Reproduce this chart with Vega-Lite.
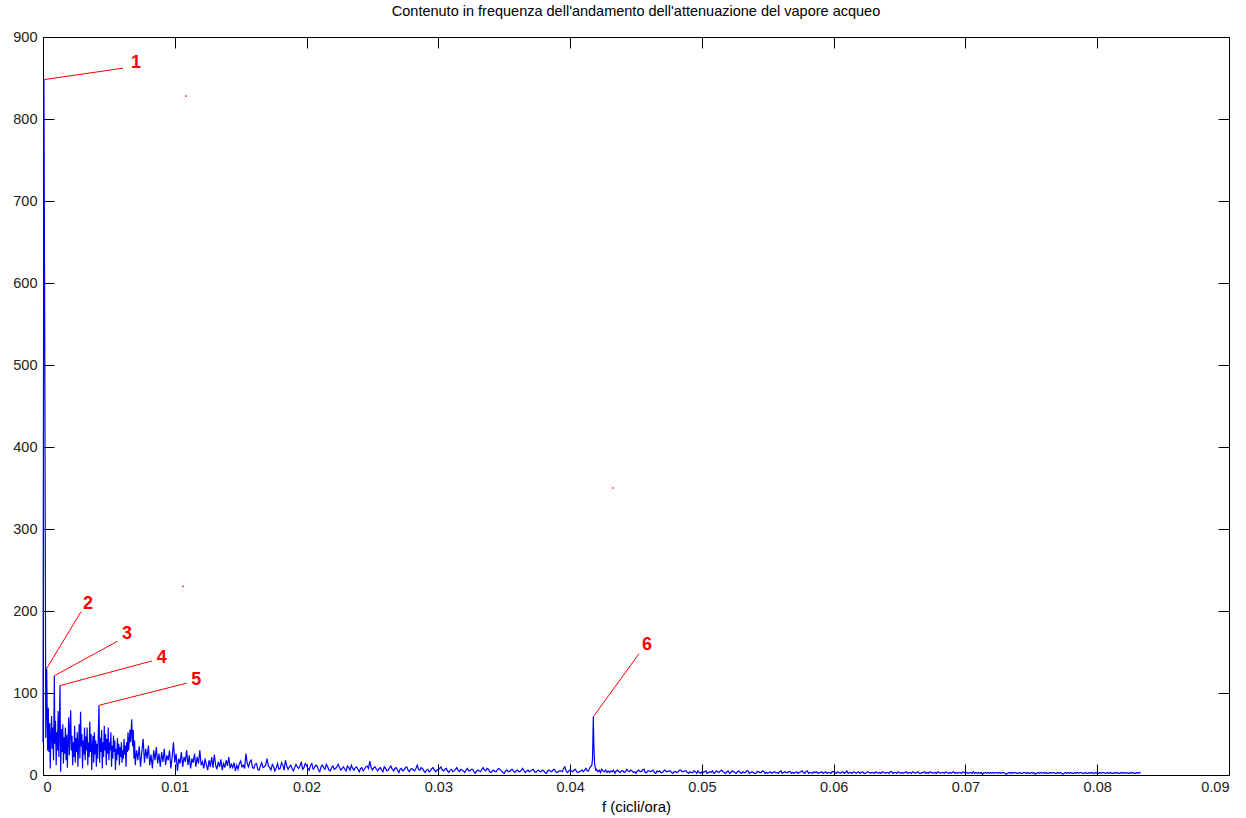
{
"$schema":"https://vega.github.io/schema/vega-lite/v6.json",
"width":1186,"height":738,
"autosize":{"type":"none"},
"padding":{"left":43,"top":37,"right":17,"bottom":43},
"background":"white",
"title":{"text":"Contenuto in frequenza dell'andamento dell'attenuazione del vapore acqueo","font":"Liberation Sans","fontSize":14.5,"fontWeight":"normal","color":"#000000","offset":10,"anchor":"middle"},
"config":{"view":{"stroke":null},"axis":{"grid":false,"domainColor":"#000000","tickColor":"#000000","labelFont":"Liberation Sans","labelFontSize":14.5,"labelColor":"#222222","titleFont":"Liberation Sans","titleFontSize":15,"titleFontWeight":"normal","titleColor":"#000000"}},
"datasets":{
"spec":[
{"f":0,"a":40},{"f":0.00007,"a":848},{"f":0.00014,"a":495},{"f":0.00021,"a":45},{"f":0.00028,"a":130},{"f":0.00035,"a":30},{"f":0.0004,"a":82},{"f":0.00045,"a":28},{"f":0.0005,"a":63},{"f":0.00055,"a":8},{"f":0.0006,"a":48},{"f":0.00065,"a":72},{"f":0.0007,"a":32},{"f":0.00075,"a":58},{"f":0.0008,"a":18},{"f":0.00086,"a":121},{"f":0.0009,"a":38},{"f":0.00095,"a":66},{"f":0.001,"a":12},{"f":0.00105,"a":52},{"f":0.0011,"a":30},{"f":0.00115,"a":78},{"f":0.0012,"a":22},{"f":0.00129,"a":109},{"f":0.00134,"a":4},{"f":0.0014,"a":56},{"f":0.00145,"a":28},{"f":0.0015,"a":62},{"f":0.00155,"a":14},{"f":0.0016,"a":46},{"f":0.00165,"a":26},{"f":0.0017,"a":58},{"f":0.00175,"a":18},{"f":0.0018,"a":49},{"f":0.00185,"a":9},{"f":0.0019,"a":42},{"f":0.00195,"a":70},{"f":0.002,"a":24},{"f":0.00205,"a":55},{"f":0.0021,"a":79},{"f":0.00215,"a":30},{"f":0.0022,"a":48},{"f":0.00225,"a":12},{"f":0.0023,"a":40},{"f":0.00235,"a":22},{"f":0.0024,"a":60},{"f":0.00245,"a":15},{"f":0.0025,"a":45},{"f":0.00255,"a":28},{"f":0.0026,"a":52},{"f":0.00265,"a":10},{"f":0.0027,"a":38},{"f":0.00275,"a":62},{"f":0.0028,"a":20},{"f":0.00285,"a":77},{"f":0.0029,"a":35},{"f":0.00295,"a":50},{"f":0.003,"a":8},{"f":0.00305,"a":42},{"f":0.0031,"a":25},{"f":0.00315,"a":58},{"f":0.0032,"a":18},{"f":0.00325,"a":47},{"f":0.0033,"a":30},{"f":0.00335,"a":58},{"f":0.0034,"a":12},{"f":0.00345,"a":40},{"f":0.0035,"a":22},{"f":0.00355,"a":65},{"f":0.0036,"a":28},{"f":0.00365,"a":50},{"f":0.0037,"a":6},{"f":0.00375,"a":35},{"f":0.0038,"a":48},{"f":0.00385,"a":15},{"f":0.0039,"a":52},{"f":0.00395,"a":25},{"f":0.004,"a":42},{"f":0.00405,"a":10},{"f":0.0041,"a":38},{"f":0.00415,"a":20},{"f":0.00425,"a":85},{"f":0.0043,"a":15},{"f":0.00435,"a":45},{"f":0.0044,"a":28},{"f":0.00445,"a":55},{"f":0.0045,"a":8},{"f":0.00455,"a":40},{"f":0.0046,"a":22},{"f":0.00465,"a":60},{"f":0.0047,"a":30},{"f":0.00475,"a":50},{"f":0.0048,"a":12},{"f":0.00485,"a":44},{"f":0.0049,"a":26},{"f":0.00495,"a":58},{"f":0.005,"a":18},{"f":0.00505,"a":40},{"f":0.0051,"a":30},{"f":0.00515,"a":52},{"f":0.0052,"a":10},{"f":0.00525,"a":36},{"f":0.0053,"a":20},{"f":0.00535,"a":48},{"f":0.0054,"a":28},{"f":0.00545,"a":42},{"f":0.0055,"a":6},{"f":0.00555,"a":32},{"f":0.0056,"a":18},{"f":0.00565,"a":45},{"f":0.0057,"a":25},{"f":0.00575,"a":38},{"f":0.0058,"a":12},{"f":0.00585,"a":34},{"f":0.0059,"a":22},{"f":0.00595,"a":40},{"f":0.006,"a":15},{"f":0.00605,"a":30},{"f":0.0061,"a":20},{"f":0.00615,"a":44},{"f":0.0062,"a":25},{"f":0.00625,"a":36},{"f":0.0063,"a":10},{"f":0.00635,"a":40},{"f":0.0064,"a":28},{"f":0.00645,"a":52},{"f":0.0065,"a":30},{"f":0.0066,"a":55},{"f":0.00665,"a":40},{"f":0.00673,"a":68},{"f":0.0068,"a":35},{"f":0.00685,"a":55},{"f":0.0069,"a":20},{"f":0.00695,"a":42},{"f":0.007,"a":12},
{"f":0.0071,"a":30},{"f":0.0072,"a":18},{"f":0.0073,"a":35},{"f":0.0074,"a":10},{"f":0.0075,"a":28},{"f":0.0076,"a":44},{"f":0.0077,"a":15},{"f":0.0078,"a":32},{"f":0.0079,"a":20},{"f":0.008,"a":36},{"f":0.0081,"a":12},{"f":0.0082,"a":25},{"f":0.0083,"a":8},{"f":0.0084,"a":30},{"f":0.0085,"a":18},{"f":0.0086,"a":34},{"f":0.0087,"a":14},{"f":0.0088,"a":26},{"f":0.0089,"a":10},{"f":0.009,"a":28},{"f":0.0091,"a":16},{"f":0.0092,"a":32},{"f":0.0093,"a":12},{"f":0.0094,"a":24},{"f":0.0095,"a":18},{"f":0.0096,"a":30},{"f":0.0097,"a":8},{"f":0.0098,"a":22},{"f":0.0099,"a":40},{"f":0.01,"a":15},{"f":0.0101,"a":26},{"f":0.0102,"a":5},{"f":0.0103,"a":20},{"f":0.0104,"a":14},{"f":0.0105,"a":28},{"f":0.0106,"a":10},{"f":0.0107,"a":22},{"f":0.0108,"a":16},{"f":0.0109,"a":30},{"f":0.011,"a":12},{"f":0.0111,"a":24},{"f":0.0112,"a":8},{"f":0.0113,"a":20},{"f":0.0114,"a":15},{"f":0.0115,"a":26},{"f":0.0116,"a":10},{"f":0.0117,"a":22},{"f":0.0118,"a":14},{"f":0.0119,"a":30},{"f":0.012,"a":12},
{"f":0.0121,"a":16},{"f":0.0122,"a":8},{"f":0.0123,"a":20},{"f":0.0124,"a":12},{"f":0.0125,"a":6},{"f":0.0126,"a":18},{"f":0.0127,"a":10},{"f":0.0128,"a":22},{"f":0.0129,"a":9},{"f":0.013,"a":25},
{"f":0.0131,"a":12},{"f":0.0132,"a":7},{"f":0.0133,"a":16},{"f":0.0134,"a":10},{"f":0.0135,"a":19},{"f":0.0136,"a":6},{"f":0.0137,"a":14},{"f":0.0138,"a":9},{"f":0.0139,"a":18},{"f":0.014,"a":11},
{"f":0.0141,"a":22},{"f":0.0142,"a":8},{"f":0.0143,"a":13},{"f":0.0144,"a":9},{"f":0.0145,"a":15},{"f":0.0146,"a":5},{"f":0.0147,"a":12},{"f":0.0148,"a":7},{"f":0.0149,"a":14},{"f":0.015,"a":17},
{"f":0.0151,"a":10},{"f":0.0152,"a":12},{"f":0.0153,"a":8},{"f":0.0154,"a":26},{"f":0.0155,"a":14},{"f":0.0156,"a":10},{"f":0.0157,"a":16},{"f":0.0158,"a":18},{"f":0.0159,"a":9},{"f":0.016,"a":8},
{"f":0.0161,"a":13},{"f":0.0162,"a":14},{"f":0.0163,"a":7},{"f":0.0164,"a":6},{"f":0.0165,"a":11},{"f":0.0166,"a":15},{"f":0.0167,"a":9},{"f":0.0168,"a":10},{"f":0.0169,"a":12},{"f":0.017,"a":20},
{"f":0.0171,"a":11},{"f":0.0172,"a":9},{"f":0.0173,"a":6},{"f":0.0174,"a":13},{"f":0.0175,"a":10},{"f":0.0176,"a":5},{"f":0.0177,"a":9},{"f":0.0178,"a":14},{"f":0.0179,"a":7},{"f":0.018,"a":8},
{"f":0.0181,"a":15},{"f":0.0182,"a":12},{"f":0.0183,"a":6},{"f":0.0184,"a":18},{"f":0.0185,"a":11},{"f":0.0186,"a":7},{"f":0.0187,"a":10},{"f":0.0188,"a":12},{"f":0.0189,"a":8},{"f":0.019,"a":5},
{"f":0.0191,"a":9},{"f":0.0192,"a":13},{"f":0.0193,"a":10},{"f":0.0194,"a":8},{"f":0.0195,"a":11},{"f":0.0196,"a":16},{"f":0.0197,"a":7},{"f":0.0198,"a":9},{"f":0.0199,"a":14},{"f":0.02,"a":12},
{"f":0.0201,"a":8},{"f":0.0202,"a":6},{"f":0.0203,"a":12},{"f":0.0204,"a":14},{"f":0.0205,"a":7},{"f":0.0206,"a":9},{"f":0.0207,"a":12},{"f":0.0208,"a":11},{"f":0.0209,"a":6},{"f":0.021,"a":4},
{"f":0.0211,"a":10},{"f":0.0212,"a":12},{"f":0.0213,"a":9},{"f":0.0214,"a":7},{"f":0.0215,"a":13},{"f":0.0216,"a":10},{"f":0.0217,"a":6},{"f":0.0218,"a":5},{"f":0.0219,"a":9},{"f":0.022,"a":11},
{"f":0.0221,"a":7},{"f":0.0222,"a":8},{"f":0.0223,"a":10},{"f":0.0224,"a":13},{"f":0.0225,"a":9},{"f":0.0226,"a":6},{"f":0.0227,"a":8},{"f":0.0228,"a":10},{"f":0.0229,"a":7},{"f":0.023,"a":5},
{"f":0.0231,"a":11},{"f":0.0232,"a":9},{"f":0.0233,"a":6},{"f":0.0234,"a":12},{"f":0.0235,"a":8},{"f":0.0236,"a":6},{"f":0.0237,"a":9},{"f":0.0238,"a":10},{"f":0.0239,"a":7},{"f":0.024,"a":4},
{"f":0.0241,"a":8},{"f":0.0242,"a":9},{"f":0.0243,"a":5},{"f":0.0244,"a":7},{"f":0.0245,"a":10},{"f":0.0246,"a":11},{"f":0.0247,"a":8},{"f":0.0248,"a":17},{"f":0.0249,"a":9},{"f":0.025,"a":6},
{"f":0.0251,"a":9},{"f":0.0252,"a":10},{"f":0.0253,"a":7},{"f":0.0254,"a":5},{"f":0.0255,"a":8},{"f":0.0256,"a":9},{"f":0.0257,"a":6},{"f":0.0258,"a":4},{"f":0.0259,"a":10},{"f":0.026,"a":8},
{"f":0.0261,"a":5},{"f":0.0262,"a":6},{"f":0.0263,"a":9},{"f":0.0264,"a":11},{"f":0.0265,"a":7},{"f":0.0266,"a":5},{"f":0.0267,"a":8},{"f":0.0268,"a":9},{"f":0.0269,"a":6},{"f":0.027,"a":3},
{"f":0.0271,"a":7},{"f":0.0272,"a":8},{"f":0.0273,"a":5},{"f":0.0274,"a":6},{"f":0.0275,"a":9},{"f":0.0276,"a":10},{"f":0.0277,"a":6},{"f":0.0278,"a":4},{"f":0.0279,"a":7},{"f":0.028,"a":8},
{"f":0.0281,"a":6},{"f":0.0282,"a":5},{"f":0.0283,"a":8},{"f":0.0284,"a":12},{"f":0.0285,"a":7},{"f":0.0286,"a":6},{"f":0.0287,"a":9},{"f":0.0288,"a":8},{"f":0.0289,"a":5},{"f":0.029,"a":3},
{"f":0.0291,"a":6},{"f":0.0292,"a":7},{"f":0.0293,"a":4},{"f":0.0294,"a":5},{"f":0.0295,"a":8},{"f":0.0296,"a":9},{"f":0.0297,"a":6},{"f":0.0298,"a":4},{"f":0.0299,"a":6},{"f":0.03,"a":7},
{"f":0.0301,"a":8},{"f":0.0302,"a":10},{"f":0.0303,"a":6},{"f":0.0304,"a":5},{"f":0.0305,"a":7},{"f":0.0306,"a":8},{"f":0.0307,"a":5},{"f":0.0308,"a":3},{"f":0.0309,"a":6},{"f":0.031,"a":7},
{"f":0.0311,"a":4},{"f":0.0312,"a":5},{"f":0.0313,"a":7},{"f":0.0314,"a":9},{"f":0.0315,"a":6},{"f":0.0316,"a":4},{"f":0.0317,"a":7},{"f":0.0318,"a":6},{"f":0.0319,"a":5},{"f":0.032,"a":3},
{"f":0.0321,"a":6},{"f":0.0322,"a":8},{"f":0.0323,"a":5},{"f":0.0324,"a":5},{"f":0.0325,"a":7},{"f":0.0326,"a":7},{"f":0.0327,"a":4},{"f":0.0328,"a":2},{"f":0.0329,"a":5},{"f":0.033,"a":6},
{"f":0.0331,"a":5},{"f":0.0332,"a":4},{"f":0.0333,"a":7},{"f":0.0334,"a":9},{"f":0.0335,"a":6},{"f":0.0336,"a":5},{"f":0.0337,"a":8},{"f":0.0338,"a":7},{"f":0.0339,"a":4},{"f":0.034,"a":3},
{"f":0.0341,"a":5},{"f":0.0342,"a":6},{"f":0.0343,"a":4},{"f":0.0344,"a":4},{"f":0.0345,"a":7},{"f":0.0346,"a":8},{"f":0.0347,"a":6},{"f":0.0348,"a":5},{"f":0.0349,"a":3},{"f":0.035,"a":2},
{"f":0.0351,"a":5},{"f":0.0352,"a":6},{"f":0.0353,"a":4},{"f":0.0354,"a":4},{"f":0.0355,"a":6},{"f":0.0356,"a":7},{"f":0.0357,"a":5},{"f":0.0358,"a":3},{"f":0.0359,"a":5},{"f":0.036,"a":6},
{"f":0.0361,"a":4},{"f":0.0362,"a":4},{"f":0.0363,"a":6},{"f":0.0364,"a":8},{"f":0.0365,"a":5},{"f":0.0366,"a":3},{"f":0.0367,"a":5},{"f":0.0368,"a":6},{"f":0.0369,"a":4},{"f":0.037,"a":5},
{"f":0.0371,"a":6},{"f":0.0372,"a":7},{"f":0.0373,"a":4},{"f":0.0374,"a":3},{"f":0.0375,"a":5},{"f":0.0376,"a":6},{"f":0.0377,"a":4},{"f":0.0378,"a":4},{"f":0.0379,"a":6},{"f":0.038,"a":5},
{"f":0.0381,"a":3},{"f":0.0382,"a":2},{"f":0.0383,"a":5},{"f":0.0384,"a":6},{"f":0.0385,"a":5},{"f":0.0386,"a":4},{"f":0.0387,"a":6},{"f":0.0388,"a":7},{"f":0.0389,"a":4},{"f":0.039,"a":3},
{"f":0.0391,"a":4},{"f":0.0392,"a":5},{"f":0.0393,"a":5},{"f":0.0394,"a":4},{"f":0.0395,"a":8},{"f":0.0396,"a":10},{"f":0.0397,"a":5},{"f":0.0398,"a":3},{"f":0.0399,"a":5},{"f":0.04,"a":6},
{"f":0.0401,"a":5},{"f":0.0402,"a":4},{"f":0.0403,"a":6},{"f":0.0404,"a":7},{"f":0.0405,"a":4},{"f":0.0406,"a":3},{"f":0.0407,"a":4},{"f":0.0408,"a":5},{"f":0.0409,"a":6},{"f":0.041,"a":4},
{"f":0.0411,"a":6},{"f":0.0412,"a":8},{"f":0.0413,"a":5},{"f":0.0414,"a":5},{"f":0.0415,"a":9},
{"f":0.04165,"a":12},{"f":0.0417,"a":20},{"f":0.04176,"a":71},{"f":0.0418,"a":38},{"f":0.04185,"a":15},{"f":0.0419,"a":10},{"f":0.04195,"a":6},{"f":0.042,"a":7},
{"f":0.0421,"a":4},{"f":0.0422,"a":6},{"f":0.0423,"a":3},{"f":0.0424,"a":7},{"f":0.0425,"a":5},{"f":0.0426,"a":4},{"f":0.0427,"a":6},{"f":0.0428,"a":3},{"f":0.0429,"a":5},{"f":0.043,"a":3},
{"f":0.0431,"a":5},{"f":0.0432,"a":4},{"f":0.0433,"a":6},{"f":0.0434,"a":2},{"f":0.0435,"a":5},{"f":0.0436,"a":6},{"f":0.0437,"a":4},{"f":0.0438,"a":3},{"f":0.0439,"a":5},{"f":0.044,"a":5},
{"f":0.0441,"a":3},{"f":0.0442,"a":4},{"f":0.0443,"a":7},{"f":0.0444,"a":5},{"f":0.0445,"a":4},{"f":0.0446,"a":6},{"f":0.0447,"a":5},{"f":0.0448,"a":3},{"f":0.0449,"a":4},{"f":0.045,"a":2},
{"f":0.0451,"a":5},{"f":0.0452,"a":6},{"f":0.0453,"a":4},{"f":0.0454,"a":4},{"f":0.0455,"a":6},{"f":0.0456,"a":7},{"f":0.0457,"a":3},{"f":0.0458,"a":3},{"f":0.0459,"a":5},{"f":0.046,"a":5},
{"f":0.0461,"a":4},{"f":0.0462,"a":5},{"f":0.0463,"a":6},{"f":0.0464,"a":3},{"f":0.0465,"a":2},{"f":0.0466,"a":5},{"f":0.0467,"a":4},{"f":0.0468,"a":5},{"f":0.0469,"a":3},{"f":0.047,"a":3},
{"f":0.0471,"a":5},{"f":0.0472,"a":6},{"f":0.0473,"a":4},{"f":0.0474,"a":4},{"f":0.0475,"a":5},{"f":0.0476,"a":5},{"f":0.0477,"a":3},{"f":0.0478,"a":2},{"f":0.0479,"a":4},{"f":0.048,"a":4},
{"f":0.0481,"a":3},{"f":0.0482,"a":4},{"f":0.0483,"a":6},{"f":0.0484,"a":6},{"f":0.0485,"a":4},{"f":0.0486,"a":4},{"f":0.0487,"a":5},{"f":0.0488,"a":5},{"f":0.0489,"a":3},{"f":0.049,"a":2},
{"f":0.0491,"a":4},{"f":0.0492,"a":3},{"f":0.0493,"a":3},{"f":0.0494,"a":5},{"f":0.0495,"a":4},{"f":0.0496,"a":2},{"f":0.0497,"a":5},{"f":0.0498,"a":3},{"f":0.0499,"a":2},{"f":0.05,"a":4},
{"f":0.0501,"a":3},{"f":0.0502,"a":4},{"f":0.0503,"a":5},{"f":0.0504,"a":2},{"f":0.0505,"a":3},{"f":0.0506,"a":4},{"f":0.0507,"a":3},{"f":0.0508,"a":5},{"f":0.0509,"a":2},{"f":0.051,"a":3},
{"f":0.0511,"a":5},{"f":0.0512,"a":4},{"f":0.0513,"a":3},{"f":0.0514,"a":5},{"f":0.0515,"a":6},{"f":0.0516,"a":4},{"f":0.0517,"a":3},{"f":0.0518,"a":2},{"f":0.0519,"a":4},{"f":0.052,"a":5},
{"f":0.0521,"a":2},{"f":0.0522,"a":3},{"f":0.0523,"a":5},{"f":0.0524,"a":4},{"f":0.0525,"a":3},{"f":0.0526,"a":2},{"f":0.0527,"a":4},{"f":0.0528,"a":5},{"f":0.0529,"a":3},{"f":0.053,"a":2},
{"f":0.0531,"a":4},{"f":0.0532,"a":3},{"f":0.0533,"a":3},{"f":0.0534,"a":5},{"f":0.0535,"a":5},{"f":0.0536,"a":2},{"f":0.0537,"a":3},{"f":0.0538,"a":4},{"f":0.0539,"a":3},{"f":0.054,"a":2},
{"f":0.0541,"a":2},{"f":0.0542,"a":4},{"f":0.0543,"a":4},{"f":0.0544,"a":3},{"f":0.0545,"a":3},{"f":0.0546,"a":5},{"f":0.0547,"a":4},{"f":0.0548,"a":2},{"f":0.0549,"a":3},{"f":0.055,"a":2},
{"f":0.0551,"a":3},{"f":0.0552,"a":4},{"f":0.0553,"a":2},{"f":0.0554,"a":3},{"f":0.0555,"a":4},{"f":0.0556,"a":3},{"f":0.0557,"a":3},{"f":0.0558,"a":2},{"f":0.0559,"a":4},{"f":0.056,"a":5},
{"f":0.0561,"a":2},{"f":0.0562,"a":3},{"f":0.0563,"a":4},{"f":0.0564,"a":3},{"f":0.0565,"a":3},{"f":0.0566,"a":4},{"f":0.0567,"a":4},{"f":0.0568,"a":2},{"f":0.0569,"a":3},{"f":0.057,"a":2},
{"f":0.0571,"a":3},{"f":0.0572,"a":4},{"f":0.0573,"a":2},{"f":0.0574,"a":3},{"f":0.0575,"a":4},{"f":0.0576,"a":5},{"f":0.0577,"a":3},{"f":0.0578,"a":2},{"f":0.0579,"a":4},{"f":0.058,"a":5},
{"f":0.0581,"a":2},{"f":0.0582,"a":3},{"f":0.0583,"a":3},{"f":0.0584,"a":2},{"f":0.0585,"a":4},{"f":0.0586,"a":3},{"f":0.0587,"a":4},{"f":0.0588,"a":2},{"f":0.0589,"a":3},{"f":0.059,"a":3},
{"f":0.0591,"a":4},{"f":0.0592,"a":2},{"f":0.0593,"a":3},{"f":0.0594,"a":4},{"f":0.0595,"a":2},{"f":0.0596,"a":3},{"f":0.0597,"a":3},{"f":0.0598,"a":2},{"f":0.0599,"a":4},{"f":0.06,"a":4},
{"f":0.0601,"a":3},{"f":0.0602,"a":2},{"f":0.0603,"a":4},{"f":0.0604,"a":3},{"f":0.0605,"a":2},{"f":0.0606,"a":3},{"f":0.0607,"a":4},{"f":0.0608,"a":2},{"f":0.0609,"a":3},{"f":0.061,"a":5},
{"f":0.0611,"a":2},{"f":0.0612,"a":3},{"f":0.0613,"a":3},{"f":0.0614,"a":2},{"f":0.0615,"a":4},{"f":0.0616,"a":3},{"f":0.0617,"a":2},{"f":0.0618,"a":3},{"f":0.0619,"a":4},{"f":0.062,"a":2},
{"f":0.0621,"a":3},{"f":0.0622,"a":4},{"f":0.0623,"a":2},{"f":0.0624,"a":2},{"f":0.0625,"a":3},{"f":0.0626,"a":4},{"f":0.0627,"a":3},{"f":0.0628,"a":2},{"f":0.0629,"a":3},{"f":0.063,"a":3},
{"f":0.0631,"a":2},{"f":0.0632,"a":4},{"f":0.0633,"a":3},{"f":0.0634,"a":2},{"f":0.0635,"a":3},{"f":0.0636,"a":2},{"f":0.0637,"a":4},{"f":0.0638,"a":3},{"f":0.0639,"a":2},{"f":0.064,"a":3},
{"f":0.0641,"a":3},{"f":0.0642,"a":2},{"f":0.0643,"a":4},{"f":0.0644,"a":4},{"f":0.0645,"a":2},{"f":0.0646,"a":3},{"f":0.0647,"a":3},{"f":0.0648,"a":2},{"f":0.0649,"a":4},{"f":0.065,"a":3},
{"f":0.0651,"a":2},{"f":0.0652,"a":3},{"f":0.0653,"a":2},{"f":0.0654,"a":3},{"f":0.0655,"a":4},{"f":0.0656,"a":2},{"f":0.0657,"a":3},{"f":0.0658,"a":3},{"f":0.0659,"a":2},{"f":0.066,"a":4},
{"f":0.0661,"a":3},{"f":0.0662,"a":2},{"f":0.0663,"a":3},{"f":0.0664,"a":4},{"f":0.0665,"a":2},{"f":0.0666,"a":2},{"f":0.0667,"a":3},{"f":0.0668,"a":3},{"f":0.0669,"a":4},{"f":0.067,"a":2},
{"f":0.0671,"a":3},{"f":0.0672,"a":2},{"f":0.0673,"a":4},{"f":0.0674,"a":3},{"f":0.0675,"a":3},{"f":0.0676,"a":2},{"f":0.0677,"a":3},{"f":0.0678,"a":2},{"f":0.0679,"a":4},{"f":0.068,"a":3},
{"f":0.0681,"a":2},{"f":0.0682,"a":3},{"f":0.0683,"a":3},{"f":0.0684,"a":2},{"f":0.0685,"a":4},{"f":0.0686,"a":3},{"f":0.0687,"a":2},{"f":0.0688,"a":3},{"f":0.0689,"a":2},{"f":0.069,"a":3},
{"f":0.0691,"a":4},{"f":0.0692,"a":2},{"f":0.0693,"a":3},{"f":0.0694,"a":2},{"f":0.0695,"a":3},{"f":0.0696,"a":3},{"f":0.0697,"a":2},{"f":0.0698,"a":4},{"f":0.0699,"a":3},{"f":0.07,"a":2},
{"f":0.0701,"a":3},{"f":0.0702,"a":2},{"f":0.0703,"a":3},{"f":0.0704,"a":3},{"f":0.0705,"a":2},{"f":0.0706,"a":4},{"f":0.0707,"a":2},{"f":0.0708,"a":3},{"f":0.0709,"a":2},{"f":0.071,"a":3},
{"f":0.0711,"a":2},{"f":0.0712,"a":3},{"f":0.0713,"a":1},{"f":0.0714,"a":3},{"f":0.0715,"a":3},{"f":0.0716,"a":2},{"f":0.0717,"a":3},{"f":0.0718,"a":2},{"f":0.0719,"a":3},{"f":0.072,"a":2},
{"f":0.0721,"a":3},{"f":0.0722,"a":2},{"f":0.0723,"a":3},{"f":0.0724,"a":3},{"f":0.0725,"a":2},{"f":0.0726,"a":3},{"f":0.0727,"a":2},{"f":0.0728,"a":3},{"f":0.0729,"a":3},{"f":0.073,"a":2},
{"f":0.0731,"a":1},{"f":0.0732,"a":2},{"f":0.0733,"a":3},{"f":0.0734,"a":2},{"f":0.0735,"a":3},{"f":0.0736,"a":2},{"f":0.0737,"a":3},{"f":0.0738,"a":3},{"f":0.0739,"a":2},{"f":0.074,"a":2},
{"f":0.0741,"a":3},{"f":0.0742,"a":2},{"f":0.0743,"a":2},{"f":0.0744,"a":3},{"f":0.0745,"a":3},{"f":0.0746,"a":2},{"f":0.0747,"a":3},{"f":0.0748,"a":2},{"f":0.0749,"a":2},{"f":0.075,"a":3},
{"f":0.0751,"a":2},{"f":0.0752,"a":3},{"f":0.0753,"a":1},{"f":0.0754,"a":2},{"f":0.0755,"a":3},{"f":0.0756,"a":2},{"f":0.0757,"a":3},{"f":0.0758,"a":2},{"f":0.0759,"a":3},{"f":0.076,"a":2},
{"f":0.0761,"a":3},{"f":0.0762,"a":2},{"f":0.0763,"a":2},{"f":0.0764,"a":3},{"f":0.0765,"a":2},{"f":0.0766,"a":3},{"f":0.0767,"a":3},{"f":0.0768,"a":2},{"f":0.0769,"a":2},{"f":0.077,"a":3},
{"f":0.0771,"a":2},{"f":0.0772,"a":3},{"f":0.0773,"a":2},{"f":0.0774,"a":1},{"f":0.0775,"a":2},{"f":0.0776,"a":3},{"f":0.0777,"a":2},{"f":0.0778,"a":3},{"f":0.0779,"a":2},{"f":0.078,"a":3},
{"f":0.0781,"a":2},{"f":0.0782,"a":2},{"f":0.0783,"a":3},{"f":0.0784,"a":2},{"f":0.0785,"a":3},{"f":0.0786,"a":2},{"f":0.0787,"a":3},{"f":0.0788,"a":3},{"f":0.0789,"a":2},{"f":0.079,"a":2},
{"f":0.0791,"a":3},{"f":0.0792,"a":2},{"f":0.0793,"a":2},{"f":0.0794,"a":3},{"f":0.0795,"a":2},{"f":0.0796,"a":3},{"f":0.0797,"a":2},{"f":0.0798,"a":2},{"f":0.0799,"a":3},{"f":0.08,"a":2},
{"f":0.0801,"a":2},{"f":0.0802,"a":3},{"f":0.0803,"a":2},{"f":0.0804,"a":3},{"f":0.0805,"a":3},{"f":0.0806,"a":2},{"f":0.0807,"a":2},{"f":0.0808,"a":3},{"f":0.0809,"a":2},{"f":0.081,"a":3},
{"f":0.0811,"a":2},{"f":0.0812,"a":2},{"f":0.0813,"a":3},{"f":0.0814,"a":2},{"f":0.0815,"a":3},{"f":0.0816,"a":2},{"f":0.0817,"a":2},{"f":0.0818,"a":3},{"f":0.0819,"a":2},{"f":0.082,"a":3},
{"f":0.0821,"a":2},{"f":0.0822,"a":3},{"f":0.0823,"a":2},{"f":0.0824,"a":2},{"f":0.0825,"a":3},{"f":0.0826,"a":2},{"f":0.0827,"a":3},{"f":0.0828,"a":2},{"f":0.0829,"a":2},{"f":0.083,"a":3},
{"f":0.0831,"a":2},{"f":0.0832,"a":3},{"f":0.0833,"a":2}
],
"notes":[
{"label":"1","x1":0.00007,"y1":848,"x2":0.00607,"y2":862,"lx":0.00706,"ly":868},
{"label":"2","x1":0.00028,"y1":130,"x2":0.00288,"y2":199,"lx":0.00341,"ly":208},
{"label":"3","x1":0.00086,"y1":121,"x2":0.00564,"y2":163,"lx":0.00637,"ly":172},
{"label":"4","x1":0.00129,"y1":109,"x2":0.00825,"y2":139,"lx":0.00901,"ly":143},
{"label":"5","x1":0.00425,"y1":85,"x2":0.0109,"y2":112,"lx":0.01163,"ly":116},
{"label":"6","x1":0.04176,"y1":71,"x2":0.04523,"y2":148,"lx":0.04583,"ly":158}
],
"dots":[{"f":0.01085,"a":828},{"f":0.01062,"a":230},{"f":0.04325,"a":350}]
},
"resolve":{"axis":{"x":"independent","y":"independent"}},
"layer":[
{"data":{"name":"spec"},"mark":{"type":"line","color":"#0000ff","strokeWidth":1.2},
 "encoding":{
  "x":{"field":"f","type":"quantitative","scale":{"domain":[0,0.09],"nice":false,"zero":false},"axis":{"orient":"bottom","values":[0,0.01,0.02,0.03,0.04,0.05,0.06,0.07,0.08,0.09],"format":"~g","tickSize":-11,"labelPadding":16,"title":"f (cicli/ora)","titlePadding":6}},
  "y":{"field":"a","type":"quantitative","scale":{"domain":[0,900],"nice":false,"zero":false},"axis":{"orient":"left","values":[0,100,200,300,400,500,600,700,800,900],"format":"d","tickSize":-11,"labelPadding":17,"title":null}}
 }},
{"data":{"name":"notes"},"mark":{"type":"rule","color":"#ff0000","strokeWidth":1},
 "encoding":{
  "x":{"field":"x1","type":"quantitative","scale":{"domain":[0,0.09],"nice":false,"zero":false},"axis":{"orient":"top","values":[0,0.01,0.02,0.03,0.04,0.05,0.06,0.07,0.08,0.09],"tickSize":-11,"labels":false,"title":null}},
  "y":{"field":"y1","type":"quantitative","scale":{"domain":[0,900],"nice":false,"zero":false},"axis":{"orient":"right","values":[0,100,200,300,400,500,600,700,800,900],"tickSize":-11,"labels":false,"title":null}},
  "x2":{"field":"x2"},
  "y2":{"field":"y2"}
 }},
{"data":{"name":"notes"},"mark":{"type":"text","color":"#ff0000","font":"Liberation Sans","fontSize":18,"fontWeight":"bold","align":"center","baseline":"middle"},
 "encoding":{
  "x":{"field":"lx","type":"quantitative","axis":null},
  "y":{"field":"ly","type":"quantitative","axis":null},
  "text":{"field":"label"}
 }},
{"data":{"name":"dots"},"mark":{"type":"square","color":"#ff0000","filled":true,"size":3},
 "encoding":{
  "x":{"field":"f","type":"quantitative","axis":null},
  "y":{"field":"a","type":"quantitative","axis":null}
 }}
]
}
